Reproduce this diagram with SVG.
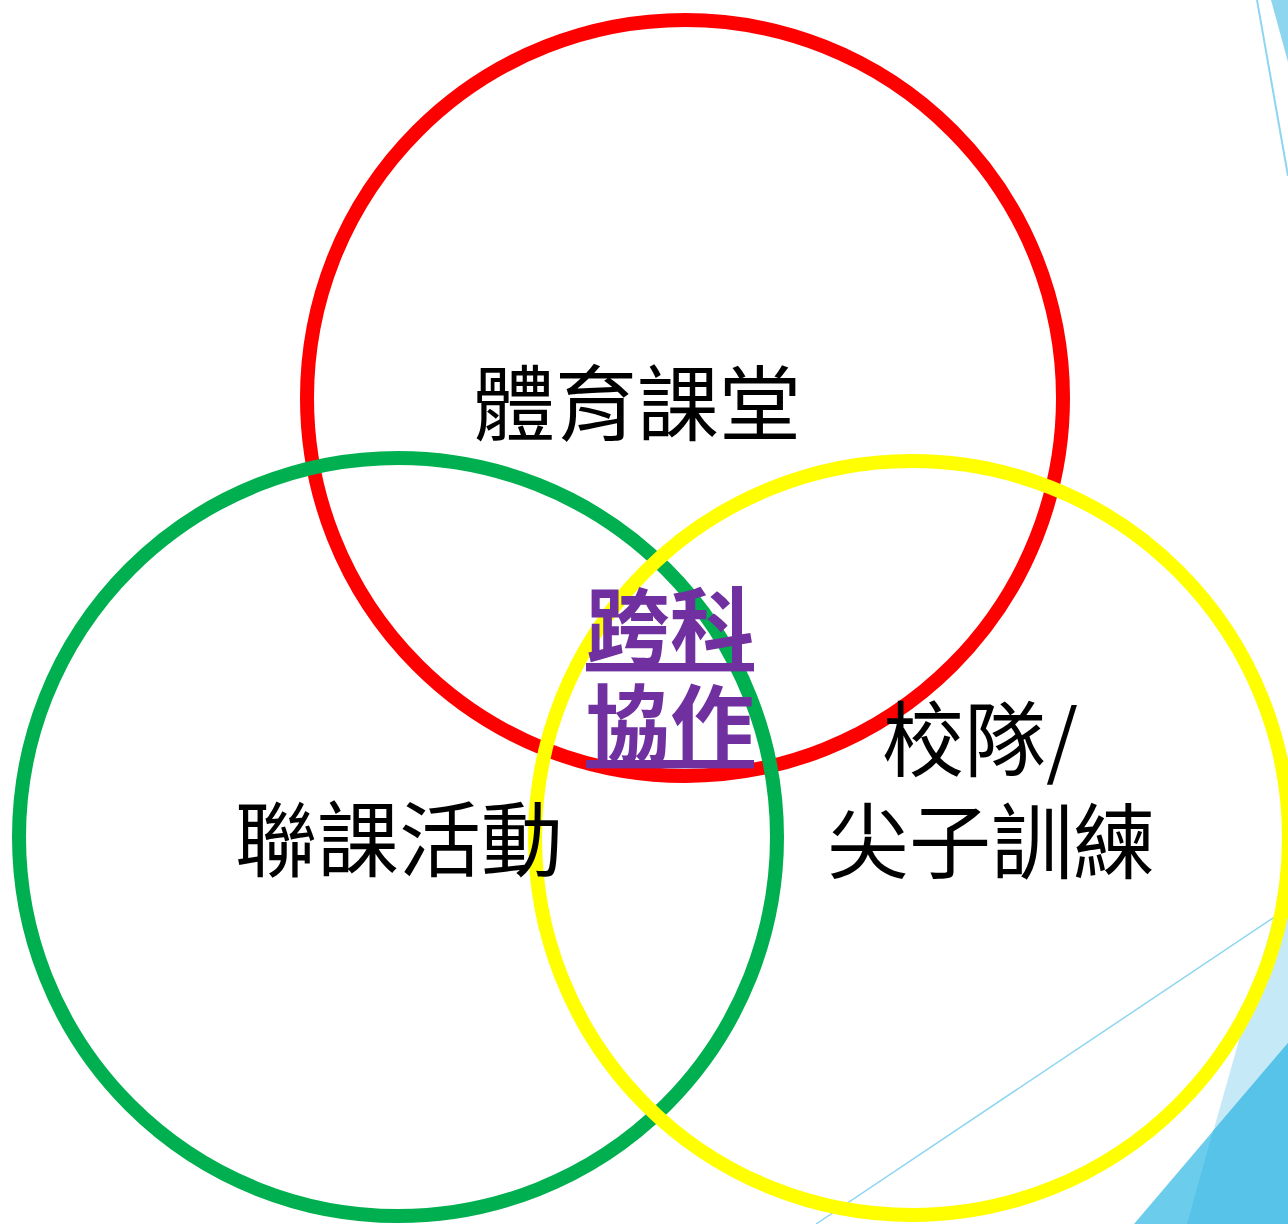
<svg xmlns="http://www.w3.org/2000/svg" width="1288" height="1224" viewBox="0 0 1288 1224">
<style>
.ring{fill:none;stroke-width:14}
.lbl{font-family:"Noto Sans CJK TC","Noto Sans CJK SC",sans-serif;font-size:82px;fill:#000;text-anchor:middle}
.hub{font-family:"Noto Sans CJK TC","Noto Sans CJK SC",sans-serif;font-size:84px;font-weight:bold;fill:#7030A0;text-anchor:middle;text-decoration:underline}
</style>
<rect width="1288" height="1224" fill="#fff"/>
<g id="decor">
<polygon points="1271,0 1288,0 1288,62" fill="#8ED6F0"/>
<line x1="1257" y1="0" x2="1288" y2="176" stroke="#8ED6F0" stroke-width="2"/>
<polygon points="1288,867 1288,1224 1187,1224" fill="#C5E9F7"/>
<polygon points="1134,1224 1288,1043 1288,1224" fill="#6BCCEC"/>
<polygon points="1187,1224 1213,1131 1288,1043 1288,1224" fill="#57C3E8"/>
<line x1="816" y1="1224" x2="1288" y2="908" stroke="#8ED6F0" stroke-width="1.5"/>
</g>
<g id="red-circle"><circle class="ring" cx="685" cy="398" r="378" stroke="#FF0000"/></g>
<g id="green-circle"><circle class="ring" cx="398" cy="837" r="379" stroke="#00B050"/></g>
<g id="yellow-circle"><circle class="ring" cx="912" cy="838" r="377" stroke="#FFFF00"/></g>
<g id="pe"><text class="lbl" x="637" y="434">體育課堂</text></g>
<g id="ecc"><text class="lbl" x="399" y="870">聯課活動</text></g>
<g id="team"><text class="lbl" x="980" y="770">校隊/</text><text class="lbl" x="991" y="872">尖子訓練</text></g>
<g id="cross"><text class="hub" x="670" y="658">跨科</text><text class="hub" x="670" y="755">協作</text></g>
</svg>
